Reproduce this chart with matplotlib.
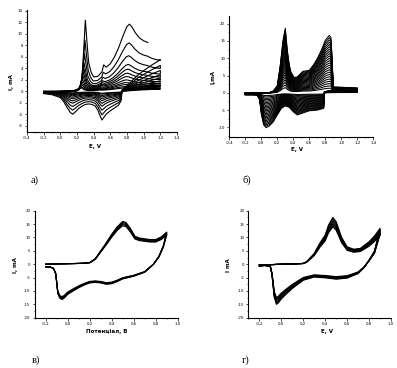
import numpy as np
import matplotlib
matplotlib.use("Agg")
import matplotlib.pyplot as plt
from matplotlib.ticker import MultipleLocator, FuncFormatter

# ---------------- Panel а ----------------
E_a_fwd = [-0.20, -0.10, 0.00, 0.10, 0.18, 0.22, 0.24, 0.26, 0.28, 0.30, 0.32, 0.34, 0.37, 0.40,
           0.45, 0.50, 0.52, 0.55, 0.60, 0.65, 0.70, 0.75, 0.80, 0.83, 0.86, 0.90, 0.95, 1.00, 1.05,
           1.10, 1.15, 1.20]
I_a_fwd = [-0.3, -0.3, -0.2, 0.0, 0.2, 0.5, 1.0, 2.5, 7.0, 12.4, 8.5, 5.0, 3.3, 2.5,
           2.6, 3.4, 4.6, 4.2, 4.8, 6.0, 7.6, 9.6, 11.3, 11.7, 11.2, 10.2, 9.3, 8.8, 8.5,
           8.0, 7.7, 7.5]
E_a_rev = [1.20, 1.10, 1.00, 0.92, 0.86, 0.80, 0.76, 0.74, 0.73, 0.70, 0.65, 0.60, 0.55, 0.52,
           0.50, 0.48, 0.45, 0.42, 0.38, 0.34, 0.30, 0.26, 0.22, 0.18, 0.15, 0.12, 0.08, 0.04,
           0.00, -0.10, -0.20]
I_a_rev = [5.5, 4.6, 3.6, 2.7, 1.8, 1.0, 0.5, 0.2, -1.6, -2.4, -2.9, -3.4, -4.0, -4.6,
           -5.0, -4.4, -3.3, -2.6, -2.3, -2.2, -2.3, -2.6, -3.0, -3.6, -4.0, -3.7, -2.8, -1.8,
           -1.1, -0.6, -0.4]
a_anodic_scale = [1.0, 0.72, 0.53, 0.40, 0.33, 0.27, 0.22, 0.17, 0.13, 0.10, 0.07, 0.05]
a_anodic_shift = [0.0, -0.005, -0.01, -0.015, -0.02, -0.025, -0.03, -0.035, -0.04, -0.045,
                  -0.05, -0.05]
a_cathodic_scale = [None, 1.0, 0.82, 0.66, 0.52, 0.42, 0.33, 0.26, 0.20, 0.15, 0.10, 0.07]
a_sweep_end = [1.05, 1.2, 1.2, 1.2, 1.2, 1.2, 1.2, 1.2, 1.2, 1.2, 1.2, 1.2]

# ---------------- Panel б ----------------
E_b_fwd = [-0.20, -0.10, 0.00, 0.10, 0.15, 0.20, 0.235, 0.27, 0.30, 0.325, 0.35, 0.37, 0.41,
           0.45, 0.52, 0.60, 0.65, 0.70, 0.75, 0.80, 0.85, 0.87, 0.88, 0.90, 1.00, 1.10, 1.20]
I_b_fwd = [-0.3, -0.3, -0.2, 0.0, 0.5, 2.0, 7.5, 15.0, 18.7, 12.3, 8.0, 6.0, 4.4,
           4.6, 6.2, 6.5, 8.0, 9.9, 12.3, 15.2, 16.6, 16.0, 12.0, 1.7, 1.6, 1.5, 1.4]
E_b_rev = [1.20, 1.00, 0.85, 0.79, 0.78, 0.70, 0.60, 0.50, 0.45, 0.40, 0.35, 0.30, 0.25,
           0.20, 0.15, 0.10, 0.06, 0.03, 0.00, -0.02, -0.05, -0.10, -0.20]
I_b_rev = [1.2, 0.9, 0.6, 0.3, -4.5, -5.0, -5.2, -6.0, -6.4, -5.5, -4.2, -3.8, -4.5,
           -6.4, -8.4, -9.6, -10.1, -9.3, -6.0, -2.0, -0.7, -0.6, -0.6]
b_anodic_scale = [1.0, 0.96, 0.92, 0.88, 0.84, 0.80, 0.76, 0.72, 0.68, 0.64, 0.60, 0.56,
                  0.52, 0.48, 0.44, 0.40, 0.36, 0.32, 0.28, 0.24, 0.20, 0.16, 0.12, 0.08]
b_cathodic_scale = [1.0, 0.96, 0.92, 0.88, 0.84, 0.80, 0.76, 0.72, 0.68, 0.64, 0.60, 0.56,
                    0.52, 0.48, 0.44, 0.40, 0.36, 0.32, 0.28, 0.24, 0.20, 0.16, 0.12, 0.08]

# ---------------- Panel в ----------------
E_c_fwd = [-0.20, -0.10, 0.00, 0.10, 0.15, 0.20, 0.25, 0.30, 0.35, 0.40, 0.45, 0.50, 0.53,
           0.57, 0.61, 0.65, 0.70, 0.75, 0.80, 0.85, 0.90]
I_c_fwd = [0.0, 0.1, 0.2, 0.3, 0.4, 0.6, 2.0, 5.0, 8.0, 11.2, 14.0, 16.0, 15.6,
           13.4, 10.5, 9.8, 9.5, 9.2, 9.2, 10.2, 12.0]
E_c_rev = [0.90, 0.87, 0.83, 0.78, 0.70, 0.60, 0.50, 0.45, 0.40, 0.35, 0.30, 0.25, 0.20,
           0.15, 0.10, 0.05, 0.00, -0.03, -0.05, -0.07, -0.09, -0.10, -0.11, -0.13, -0.16, -0.20]
I_c_rev = [12.0, 7.0, 3.0, 0.0, -3.0, -4.5, -5.5, -6.5, -7.3, -7.5, -7.0, -6.8, -7.0,
           -7.8, -8.8, -10.0, -11.3, -12.6, -13.2, -12.8, -11.0, -7.0, -3.5, -1.6, -1.1, -1.0]
c_anodic_scale = [1.0, 0.975, 0.95, 0.925, 0.90]
c_cathodic_scale = [1.0, 0.98, 0.96, 0.94, 0.92]

# ---------------- Panel г ----------------
E_d_fwd = [-0.20, -0.10, 0.00, 0.10, 0.20, 0.23, 0.30, 0.35, 0.40, 0.43, 0.47, 0.50, 0.55,
           0.60, 0.66, 0.72, 0.80, 0.85, 0.90]
I_d_fwd = [-0.3, -0.2, 0.0, 0.1, 0.3, 0.9, 4.0, 7.8, 10.9, 14.6, 17.5, 15.9, 10.0,
           6.5, 5.6, 5.9, 8.4, 10.6, 13.4]
E_d_rev = [0.90, 0.85, 0.80, 0.75, 0.70, 0.60, 0.50, 0.40, 0.30, 0.20, 0.10, 0.05, 0.00,
           -0.03, -0.045, -0.065, -0.075, -0.085, -0.10, -0.12, -0.15, -0.20]
I_d_rev = [13.4, 5.0, 1.5, -1.5, -3.5, -5.2, -5.6, -5.1, -4.8, -6.0, -9.1, -11.0, -13.0,
           -14.6, -15.0, -12.2, -8.0, -4.0, -1.0, -0.7, -0.5, -0.7]
d_anodic_scale = [1.0, 0.965, 0.93, 0.895, 0.86, 0.83, 0.80]
d_cathodic_scale = [1.0, 0.97, 0.94, 0.91, 0.88, 0.855, 0.83]

# ---------------- Text ----------------
panel_letters = ["а)", "б)", "в)", "г)"]
xlabels = ["E, V", "E, V", "Потенціал, В", "E, V"]
ylabels = ["I, mA", "I,mA", "I, mA", "I mA"]

W, H = 397, 368
fig = plt.figure(figsize=(W / 100, H / 100), dpi=100)


def rect(x0, x1, ytop, ybot):
    return [x0 / W, 1 - ybot / H, (x1 - x0) / W, (ybot - ytop) / H]


def comma(v, pos):
    s = f"{v:.1f}".replace(".", ",")
    if s == "-0,0":
        s = "0,0"
    return s


def style(ax, xlim, ylim, ymaj, ymin):
    ax.set_xlim(*xlim)
    ax.set_ylim(*ylim)
    for s in ["top", "right"]:
        ax.spines[s].set_visible(False)
    for s in ["left", "bottom"]:
        ax.spines[s].set_linewidth(0.8)
    ax.xaxis.set_major_locator(MultipleLocator(0.2))
    ax.xaxis.set_minor_locator(MultipleLocator(0.1))
    ax.yaxis.set_major_locator(MultipleLocator(ymaj))
    ax.yaxis.set_minor_locator(MultipleLocator(ymin))
    ax.xaxis.set_major_formatter(FuncFormatter(comma))
    ax.yaxis.set_major_formatter(FuncFormatter(lambda v, p: f"{v:.0f}"))
    ax.tick_params(which="major", direction="out", length=1.8, width=0.5,
                   labelsize=2.8, pad=1.2, colors="black")
    ax.tick_params(which="minor", direction="out", length=1.0, width=0.4)
    ax.patch.set_alpha(0)


def draw(ax, Ef, If, Er, Ir, sa, sc, ends=None, shifts=None, lw=0.8):
    Ef = np.array(Ef); If = np.array(If)
    Er = np.array(Er); Ir = np.array(Ir)
    for k, (a, c) in enumerate(zip(sa, sc)):
        end = ends[k] if ends is not None else Ef.max()
        d = shifts[k] if shifts is not None else 0.0
        m = Ef <= end + 1e-9
        x = Ef[m] + d
        y = If[m] * a
        x[0] = Ef[0]
        x[-1] = Ef[m][-1]
        if c is not None:
            x = np.concatenate([x, Er])
            y = np.concatenate([y, Ir * c])
        ax.plot(x, y, color="black", lw=lw, solid_joinstyle="round")


axA = fig.add_axes(rect(27, 177, 10.4, 132))
style(axA, (-0.4, 1.4), (-7.1, 14.1), 2, 1)
draw(axA, E_a_fwd, I_a_fwd, E_a_rev, I_a_rev, a_anodic_scale, a_cathodic_scale,
     a_sweep_end, a_anodic_shift)

axB = fig.add_axes(rect(229.3, 373.3, 15.7, 136.7))
style(axB, (-0.4, 1.4), (-12.7, 22.3), 5, 2.5)
draw(axB, E_b_fwd, I_b_fwd, E_b_rev, I_b_rev, b_anodic_scale, b_cathodic_scale, lw=0.75)

axC = fig.add_axes(rect(34.7, 177.7, 210.7, 317.7))
style(axC, (-0.3, 1.0), (-20, 20), 5, 2.5)
draw(axC, E_c_fwd, I_c_fwd, E_c_rev, I_c_rev, c_anodic_scale, c_cathodic_scale)

axD = fig.add_axes(rect(248.4, 391.0, 210.7, 317.7))
style(axD, (-0.3, 1.0), (-20, 20), 5, 2.5)
draw(axD, E_d_fwd, I_d_fwd, E_d_rev, I_d_rev, d_anodic_scale, d_cathodic_scale)

# axis labels (figure pixel positions)
ylab_pos = [(12, 82), (213, 77), (15, 265), (228, 265)]
xlab_pos = [(95, 147), (297, 149), (107, 332), (327, 331)]
letter_pos = [(35, 180), (247, 180), (36, 360), (246, 360)]
for (x, y), t in zip(ylab_pos, ylabels):
    fig.text(x / W, 1 - y / H, t, rotation=90, ha="center", va="center",
             fontsize=4, fontweight="bold", family="DejaVu Sans")
for (x, y), t in zip(xlab_pos, xlabels):
    fig.text(x / W, 1 - y / H, t, ha="center", va="center",
             fontsize=4, fontweight="bold", family="DejaVu Sans")
for (x, y), t in zip(letter_pos, panel_letters):
    fig.text(x / W, 1 - y / H, t, ha="center", va="center",
             fontsize=7.5, family="Liberation Serif")

fig.savefig("out.png", dpi=100)
